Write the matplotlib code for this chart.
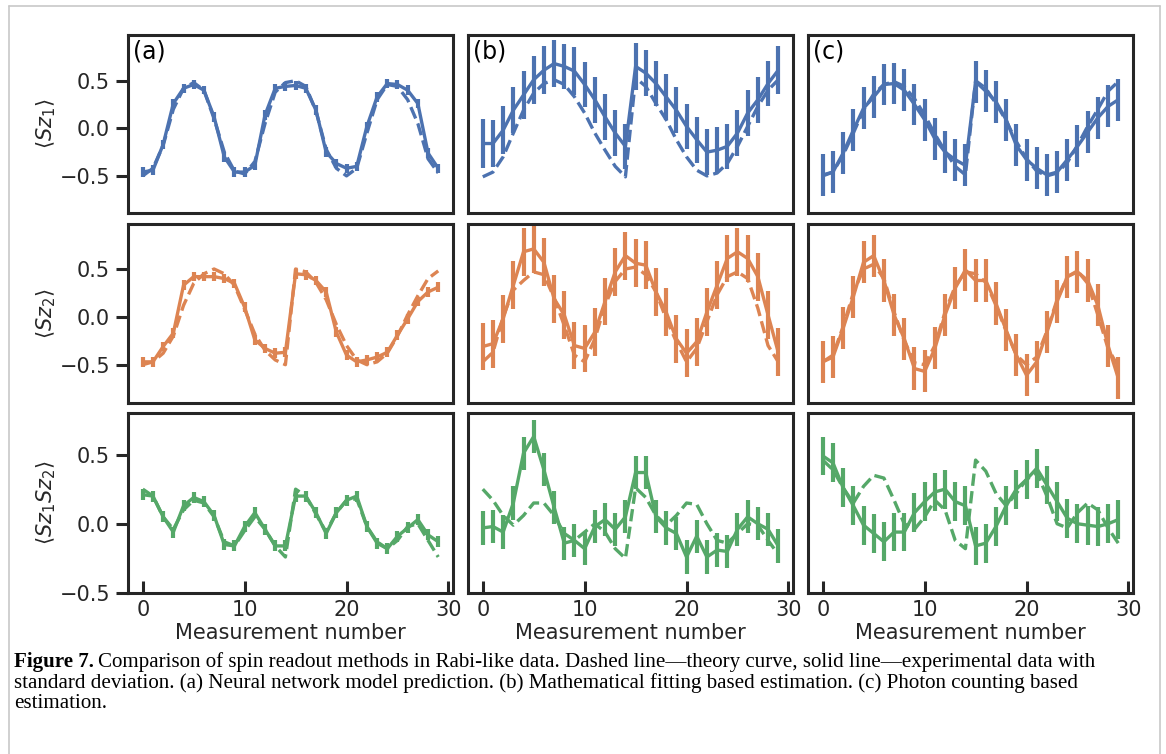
import matplotlib
matplotlib.use("Agg")
import matplotlib.pyplot as plt
import numpy as np
import seaborn as sns
from matplotlib.lines import Line2D

sns.set_theme(style="ticks")
plt.rcParams["font.family"] = ["DejaVu Sans"]
plt.rcParams["mathtext.fontset"] = "dejavusans"

x = np.arange(30)

# ---- column (a): neural network model ----
a_sz1_exp = [-0.46, -0.44, -0.17, 0.26, 0.42, 0.46, 0.40, 0.12, -0.30, -0.46,
             -0.46, -0.39, 0.14, 0.42, 0.44, 0.45, 0.42, 0.19, -0.25, -0.37,
             -0.42, -0.40, 0.02, 0.33, 0.47, 0.46, 0.40, 0.26, -0.26, -0.42]
a_sz1_err = [0.05, 0.05, 0.05, 0.05, 0.05, 0.05, 0.04, 0.05, 0.05, 0.05,
             0.05, 0.05, 0.05, 0.05, 0.05, 0.05, 0.05, 0.05, 0.05, 0.05,
             0.05, 0.05, 0.05, 0.05, 0.05, 0.05, 0.05, 0.05, 0.05, 0.05]
a_sz1_th = [-0.50, -0.42, -0.18, 0.20, 0.42, 0.48, 0.40, 0.10, -0.25, -0.45,
            -0.48, -0.35, 0.05, 0.38, 0.48, 0.50, 0.44, 0.18, -0.22, -0.42,
            -0.50, -0.42, -0.05, 0.30, 0.46, 0.44, 0.30, 0.05, -0.32, -0.47]

a_sz2_exp = [-0.47, -0.47, -0.31, -0.17, 0.33, 0.42, 0.42, 0.42, 0.40, 0.35,
             0.10, -0.24, -0.33, -0.38, -0.37, 0.45, 0.44, 0.38, 0.26, -0.16,
             -0.40, -0.47, -0.45, -0.42, -0.37, -0.19, -0.02, 0.16, 0.26, 0.31]
a_sz2_err = [0.05, 0.05, 0.05, 0.05, 0.05, 0.05, 0.05, 0.05, 0.05, 0.05,
             0.05, 0.05, 0.05, 0.05, 0.05, 0.05, 0.05, 0.05, 0.05, 0.05,
             0.05, 0.05, 0.05, 0.05, 0.05, 0.05, 0.05, 0.05, 0.05, 0.05]
a_sz2_th = [-0.50, -0.47, -0.38, -0.20, 0.12, 0.35, 0.45, 0.50, 0.45, 0.33,
            0.08, -0.18, -0.35, -0.45, -0.50, 0.50, 0.47, 0.36, 0.18, -0.08,
            -0.30, -0.45, -0.50, -0.47, -0.38, -0.20, 0.02, 0.22, 0.40, 0.48]

a_szz_exp = [0.21, 0.20, 0.05, -0.06, 0.13, 0.19, 0.16, 0.06, -0.15, -0.16,
             -0.02, 0.08, -0.04, -0.16, -0.16, 0.20, 0.20, 0.08, -0.07, 0.08,
             0.17, 0.20, -0.02, -0.14, -0.18, -0.09, -0.03, 0.03, -0.08, -0.13]
a_szz_err = [0.04, 0.04, 0.04, 0.04, 0.04, 0.04, 0.04, 0.04, 0.04, 0.04,
             0.04, 0.04, 0.04, 0.04, 0.04, 0.04, 0.04, 0.04, 0.04, 0.04,
             0.04, 0.04, 0.04, 0.04, 0.04, 0.04, 0.04, 0.04, 0.04, 0.04]
a_szz_th = [0.25, 0.20, 0.05, -0.04, 0.10, 0.17, 0.15, 0.05, -0.13, -0.16,
            -0.05, 0.05, -0.04, -0.16, -0.24, 0.25, 0.20, 0.07, -0.06, 0.08,
            0.17, 0.18, -0.02, -0.13, -0.18, -0.12, -0.02, 0.00, -0.12, -0.24]

# ---- column (b): mathematical fitting ----
b_sz1_exp = [-0.16, -0.16, -0.02, 0.19, 0.35, 0.51, 0.61, 0.68, 0.65, 0.60,
             0.46, 0.30, 0.12, -0.05, -0.19, 0.65, 0.58, 0.47, 0.33, 0.19,
             0.02, -0.12, -0.25, -0.23, -0.19, -0.05, 0.16, 0.30, 0.47, 0.61]
b_sz1_err = [0.26, 0.25, 0.25, 0.24, 0.25, 0.25, 0.25, 0.25, 0.24, 0.25,
             0.24, 0.24, 0.24, 0.24, 0.24, 0.25, 0.24, 0.24, 0.24, 0.24,
             0.24, 0.24, 0.24, 0.24, 0.24, 0.24, 0.24, 0.24, 0.24, 0.25]
b_sz1_th = [-0.51, -0.46, -0.30, -0.05, 0.19, 0.37, 0.47, 0.51, 0.46, 0.33,
            0.16, -0.05, -0.23, -0.40, -0.51, 0.53, 0.44, 0.26, 0.09, -0.12,
            -0.30, -0.44, -0.50, -0.47, -0.37, -0.19, 0.02, 0.23, 0.40, 0.51]

b_sz2_exp = [-0.31, -0.28, -0.02, 0.33, 0.68, 0.71, 0.57, 0.19, 0.02, -0.30,
             -0.33, -0.16, 0.16, 0.47, 0.64, 0.56, 0.54, 0.26, 0.05, -0.23,
             -0.38, -0.26, 0.05, 0.33, 0.61, 0.68, 0.61, 0.42, 0.02, -0.37]
b_sz2_err = [0.25, 0.25, 0.25, 0.25, 0.25, 0.25, 0.25, 0.25, 0.25, 0.25,
             0.25, 0.25, 0.25, 0.25, 0.25, 0.25, 0.25, 0.25, 0.25, 0.25,
             0.25, 0.25, 0.25, 0.25, 0.25, 0.25, 0.25, 0.25, 0.25, 0.25]
b_sz2_th = [-0.47, -0.37, 0.00, 0.28, 0.38, 0.47, 0.44, 0.20, -0.09, -0.40,
            -0.47, -0.23, 0.12, 0.37, 0.50, 0.52, 0.44, 0.26, -0.02, -0.26,
            -0.47, -0.33, -0.05, 0.23, 0.42, 0.47, 0.40, 0.09, -0.30, -0.47]

b_szz_exp = [-0.03, -0.02, -0.06, 0.15, 0.51, 0.63, 0.39, 0.12, -0.14, -0.12,
             -0.18, -0.02, 0.03, -0.04, 0.05, 0.37, 0.37, 0.05, -0.03, -0.07,
             -0.24, -0.09, -0.24, -0.19, -0.20, -0.04, 0.05, 0.00, -0.04, -0.16]
b_szz_err = [0.12, 0.12, 0.12, 0.12, 0.12, 0.12, 0.12, 0.12, 0.12, 0.12,
             0.12, 0.12, 0.12, 0.12, 0.12, 0.12, 0.12, 0.12, 0.12, 0.12,
             0.12, 0.12, 0.12, 0.12, 0.12, 0.12, 0.12, 0.12, 0.12, 0.12]
b_szz_th = [0.25, 0.17, 0.06, -0.01, 0.06, 0.15, 0.15, 0.06, -0.07, -0.12,
            -0.06, 0.00, -0.06, -0.18, -0.25, 0.26, 0.19, 0.06, -0.01, 0.06,
            0.15, 0.14, 0.00, -0.12, -0.14, -0.07, 0.00, -0.01, -0.12, -0.22]

# ---- column (c): photon counting ----
c_sz1_exp = [-0.49, -0.46, -0.26, -0.02, 0.21, 0.33, 0.46, 0.47, 0.40, 0.25,
             0.09, -0.11, -0.25, -0.33, -0.39, 0.49, 0.39, 0.28, 0.09, -0.18,
             -0.33, -0.42, -0.49, -0.46, -0.33, -0.19, -0.04, 0.11, 0.23, 0.30]
c_sz1_err = [0.22, 0.22, 0.22, 0.22, 0.22, 0.22, 0.22, 0.22, 0.22, 0.22,
             0.22, 0.22, 0.22, 0.22, 0.22, 0.22, 0.22, 0.22, 0.22, 0.22,
             0.22, 0.22, 0.22, 0.22, 0.22, 0.22, 0.22, 0.22, 0.22, 0.22]
c_sz1_th = [-0.50, -0.46, -0.28, -0.05, 0.19, 0.36, 0.46, 0.49, 0.44, 0.31,
            0.14, -0.06, -0.24, -0.40, -0.49, 0.50, 0.42, 0.26, 0.08, -0.14,
            -0.32, -0.45, -0.50, -0.47, -0.36, -0.18, 0.02, 0.20, 0.39, 0.49]

c_sz2_exp = [-0.47, -0.42, -0.12, 0.21, 0.57, 0.64, 0.38, 0.02, -0.23, -0.54,
             -0.57, -0.33, 0.02, 0.30, 0.49, 0.38, 0.38, 0.14, -0.14, -0.40,
             -0.61, -0.47, -0.16, 0.16, 0.42, 0.47, 0.38, 0.12, -0.30, -0.64]
c_sz2_err = [0.22, 0.22, 0.22, 0.22, 0.22, 0.22, 0.22, 0.22, 0.22, 0.22,
             0.22, 0.22, 0.22, 0.22, 0.22, 0.22, 0.22, 0.22, 0.22, 0.22,
             0.22, 0.22, 0.22, 0.22, 0.22, 0.22, 0.22, 0.22, 0.22, 0.22]
c_sz2_th = [-0.47, -0.40, -0.10, 0.25, 0.50, 0.55, 0.40, 0.05, -0.25, -0.48,
            -0.50, -0.30, 0.05, 0.32, 0.47, 0.45, 0.36, 0.12, -0.15, -0.40,
            -0.50, -0.42, -0.15, 0.18, 0.42, 0.48, 0.35, 0.02, -0.33, -0.52]

c_szz_exp = [0.49, 0.44, 0.26, 0.13, -0.01, -0.07, -0.13, -0.06, -0.06, 0.08,
             0.16, 0.23, 0.25, 0.16, 0.13, -0.16, -0.14, -0.02, 0.13, 0.25,
             0.32, 0.40, 0.28, 0.16, 0.04, 0.00, -0.01, -0.02, 0.00, 0.03]
c_szz_err = [0.14, 0.14, 0.14, 0.14, 0.14, 0.14, 0.14, 0.14, 0.14, 0.14,
             0.14, 0.14, 0.14, 0.14, 0.14, 0.14, 0.14, 0.14, 0.14, 0.14,
             0.14, 0.14, 0.14, 0.14, 0.14, 0.14, 0.14, 0.14, 0.14, 0.14]
c_szz_th = [0.46, 0.39, 0.26, 0.15, 0.27, 0.35, 0.33, 0.17, 0.00, -0.04,
            0.05, 0.17, 0.10, -0.12, -0.18, 0.46, 0.38, 0.22, 0.13, 0.22,
            0.32, 0.37, 0.20, 0.00, -0.03, 0.08, 0.15, 0.10, -0.03, -0.14]

panel_tags = ["(a)", "(b)", "(c)"]
row_labels = [r"$\langle Sz_1\rangle$", r"$\langle Sz_2\rangle$",
              r"$\langle Sz_1Sz_2\rangle$"]
row_colors = ["#4C72B0", "#DD8452", "#55A868"]

data = [
    [(a_sz1_exp, a_sz1_err, a_sz1_th), (b_sz1_exp, b_sz1_err, b_sz1_th), (c_sz1_exp, c_sz1_err, c_sz1_th)],
    [(a_sz2_exp, a_sz2_err, a_sz2_th), (b_sz2_exp, b_sz2_err, b_sz2_th), (c_sz2_exp, c_sz2_err, c_sz2_th)],
    [(a_szz_exp, a_szz_err, a_szz_th), (b_szz_exp, b_szz_err, b_szz_th), (c_szz_exp, c_szz_err, c_szz_th)],
]

W, H = 1166, 754
fig = plt.figure(figsize=(W / 100, H / 100), dpi=100)

col_left = [128, 468, 808]
col_w = 325
row_top = [35, 224, 413]
row_bot = [213, 403, 593]
ylims = [(-0.89, 0.98), (-0.9, 0.97), (-0.5, 0.8)]
ink = "#262626"

for r in range(3):
    for c in range(3):
        ax = fig.add_axes([col_left[c] / W, 1 - row_bot[r] / H,
                           col_w / W, (row_bot[r] - row_top[r]) / H])
        exp, err, th = data[r][c]
        col = row_colors[r]
        ax.errorbar(x, exp, yerr=err, color=col, lw=2.4, elinewidth=3.0,
                    capsize=0)
        ax.plot(x, th, "--", color=col, lw=2.4)
        ax.set_xlim(-1.45, 30.45)
        ax.set_ylim(*ylims[r])
        ax.set_yticks([-0.5, 0.0, 0.5])
        ax.set_xticks([0, 10, 20, 30])
        for s in ax.spines.values():
            s.set_linewidth(2.2)
            s.set_color(ink)
        ax.tick_params(axis="x", direction="in", length=9, width=2.2,
                       labelsize=15, colors=ink, pad=5)
        ax.tick_params(axis="y", direction="out", length=9, width=2.2,
                       labelsize=15, colors=ink, pad=4)
        if r < 2:
            ax.tick_params(axis="x", bottom=False, labelbottom=False)
        else:
            ax.set_xlabel("Measurement number", fontsize=15, color=ink,
                          labelpad=2)
        if c > 0:
            ax.tick_params(axis="y", left=False, labelleft=False)
        else:
            ax.set_ylabel(row_labels[r], fontsize=15, color=ink, labelpad=1)
        if r == 0:
            ax.text(0.015, 0.975, panel_tags[c], transform=ax.transAxes,
                    fontsize=17, va="top", ha="left", color="black")

# page frame
frame = "#c8c8c8"
fig.add_artist(Line2D([9 / W, 9 / W], [0, 1 - 6 / H], color=frame, lw=1.2))
fig.add_artist(Line2D([1160 / W, 1160 / W], [0, 1 - 6 / H], color=frame, lw=1.2))
fig.add_artist(Line2D([9 / W, 1160 / W], [1 - 6 / H, 1 - 6 / H], color=frame, lw=1.2))

# caption
cap_lines = [
    "Comparison of spin readout methods in Rabi-like data. Dashed line\u2014theory curve, solid line\u2014experimental data with",
    "standard deviation. (a) Neural network model prediction. (b) Mathematical fitting based estimation. (c) Photon counting based",
    "estimation.",
]
cap_y = [662, 683, 703]
serif = ["Liberation Serif", "DejaVu Serif"]
cap_size = 15.1
t = fig.text(14 / W, 1 - cap_y[0] / H, "Figure 7.", fontsize=cap_size, family=serif,
             weight="bold", va="center", ha="left", color="black")
fig.canvas.draw()
bb = t.get_window_extent()
fig.text(bb.x1 / W + 4 / W, 1 - cap_y[0] / H, cap_lines[0], fontsize=cap_size,
         family=serif, va="center", ha="left", color="black")
for line, yy in zip(cap_lines[1:], cap_y[1:]):
    fig.text(14 / W, 1 - yy / H, line, fontsize=cap_size, family=serif,
             va="center", ha="left", color="black")

fig.savefig("out.png", dpi=100, facecolor="white")
